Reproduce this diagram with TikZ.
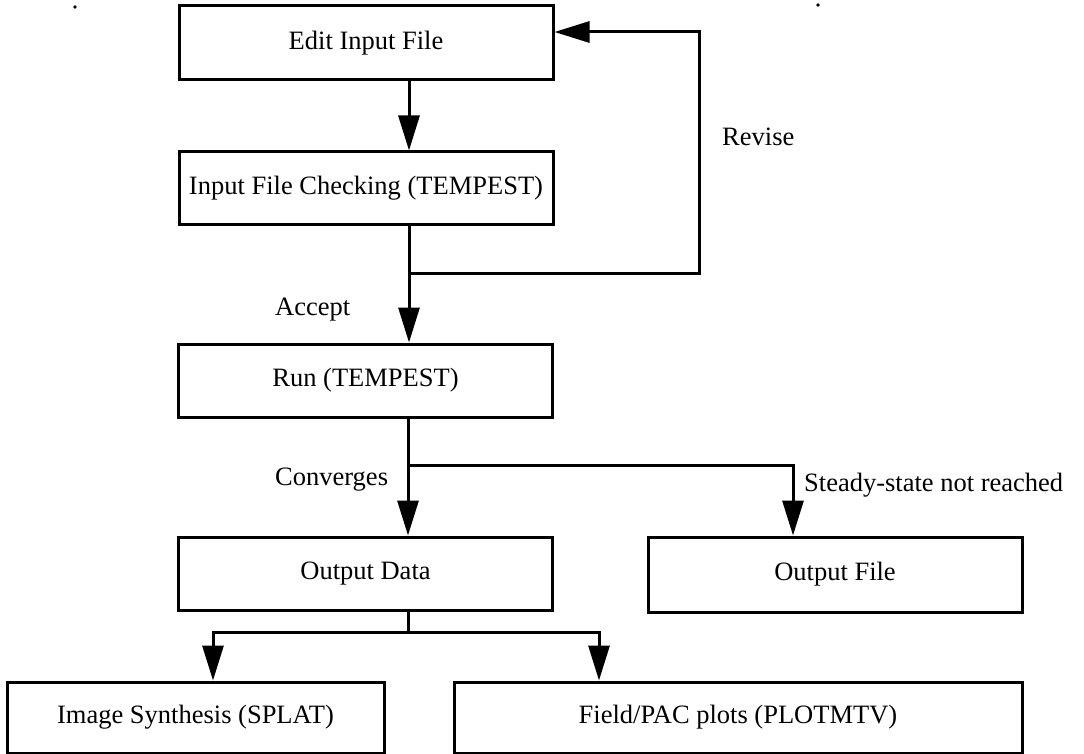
\documentclass[tikz,border=0pt]{standalone}
\usepackage{fontspec}
\setmainfont{Liberation Serif}
\usetikzlibrary{arrows.meta}
\begin{document}
\begin{tikzpicture}[x=1pt,y=-1pt,
  box/.style={draw, line width=3pt, rectangle, minimum width=374pt, minimum height=73pt, inner sep=0pt, font=\fontsize{26.5}{30}\selectfont},
  lab/.style={font=\fontsize{26.5}{30}\selectfont, inner sep=0pt},
  conn/.style={line width=3pt},
  arr/.style={conn, -{Triangle[length=35pt,width=21pt]}}]
\useasboundingbox (0,0) rectangle (1084,754);
\fill (75,7) circle (1.8pt);
\fill (818,5) circle (1.8pt);
\node[box, minimum height=74pt] (b1) at (366,43) {Edit Input File};
\node[box] (b2) at (366,188.5) {Input File Checking (TEMPEST)};
\node[box] (b3) at (365.5,380.5) {Run (TEMPEST)};
\node[box] (b4) at (365.5,573.5) {Output Data};
\node[box, minimum height=75pt] (b5) at (835,574.5) {Output File};
\node[box, minimum width=377pt, minimum height=71pt] (b6) at (195.5,717.5) {Image Synthesis (SPLAT)};
\node[box, minimum width=568pt, minimum height=71pt] (b7) at (738,717.5) {Field/PAC plots (PLOTMTV)};
\coordinate (c1) at (409,273);
\coordinate (jr) at (699,273);
\coordinate (jt) at (699,32);
\coordinate (c2) at (408,465);
\coordinate (c3) at (793,465);
\coordinate (c4) at (408,632);
\coordinate (c5) at (213,632);
\coordinate (c6) at (599,632);
\draw[arr] (b1.south -| c1) -- (b2.north -| c1);
\draw[arr] (b2.south -| c1) -- (c1) -- (jr) -- (jt) -- (b1.east |- jt);
\draw[arr] (c1) -- (b3.north -| c1);
\draw[arr] (b3.south -| c2) -- (b4.north -| c2);
\draw[arr] (c2) -- (c3) -- (b5.north -| c3);
\draw[conn] (b4.south -| c4) -- (c4);
\draw[arr] (c4) -- (c5) -- (b6.north -| c5);
\draw[arr] (c4) -- (c6) -- (b7.north -| c6);
\node[lab, anchor=west] (lrev) at (722,137) {Revise};
\node[lab, anchor=west] (lacc) at (275,310) {Accept};
\node[lab, anchor=west] (lconv) at (275,480) {Converges};
\node[lab, anchor=west] (lss) at (804,485) {Steady-state not reached};
\end{tikzpicture}
\end{document}
